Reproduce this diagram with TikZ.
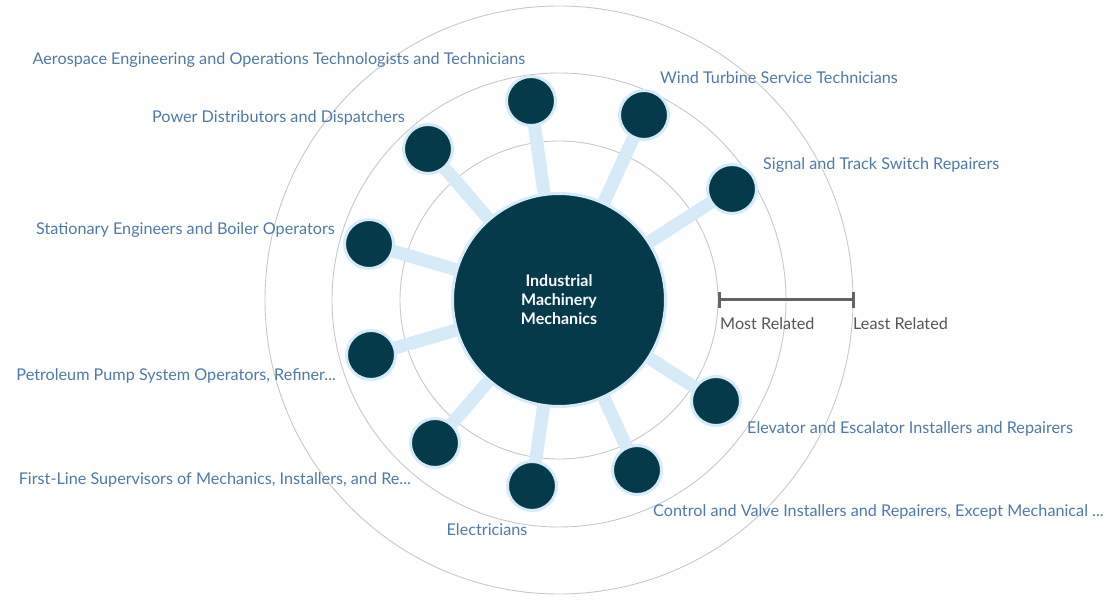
\documentclass[tikz,border=0pt]{standalone}
\usepackage{fontspec}
\setmainfont{Lato}
\usetikzlibrary{backgrounds}
\definecolor{hubdark}{RGB}{5,58,74}
\definecolor{halo}{RGB}{214,234,248}
\definecolor{ringgray}{RGB}{200,200,200}
\definecolor{labelblue}{RGB}{79,120,170}
\definecolor{scalegray}{RGB}{100,100,100}
\definecolor{scaletext}{RGB}{85,85,85}
\tikzset{
  occ/.style={circle,fill=hubdark,draw=halo,line width=3pt,minimum size=49pt,inner sep=0pt},
  hub/.style={occ,minimum size=213pt,text=white,align=center,
    font=\fontsize{16}{19}\selectfont\bfseries},
  occlabel/.style={text=labelblue,inner sep=0pt,font=\fontsize{16.2}{19}\selectfont},
  scalelabel/.style={text=scaletext,inner sep=0pt,font=\fontsize{16.2}{19}\selectfont},
  link/.style={draw=halo,line width=13pt},
  ring/.style={draw=ringgray,line width=0.9pt},
  scalebar/.style={draw=scalegray,line width=3pt}
}
\begin{document}
\begin{tikzpicture}[x=1pt,y=-1pt]
\useasboundingbox (0,0) rectangle (1110,601);
\coordinate (c) at (559,300);
\node[hub] (hub) at (c) {Industrial\\Machinery\\Mechanics};
\foreach \n/\x/\y in {aero/531/101,wind/644/115,signal/732/189,power/428/149,
    station/369/244,petro/371/355,firstline/435/443,elec/532/486,
    control/637/470,elevator/716/401} {
  \node[occ] (\n) at (\x,\y) {};
}
\begin{scope}[on background layer]
\foreach \r in {159,227,294} {
  \draw[ring] (c) circle (\r pt);
}
\foreach \n in {aero,wind,signal,power,station,petro,firstline,elec,control,elevator} {
  \draw[link] (hub.center) -- (\n.center);
}
\end{scope}
\node[occlabel] (aerotext) at (279,60.5) {Aerospace Engineering and Operations Technologists and Technicians};
\node[occlabel,anchor=west] (windtext) at (660,77.5) {Wind Turbine Service Technicians};
\node[occlabel,anchor=west] (signaltext) at (763,165.5) {Signal and Track Switch Repairers};
\node[occlabel,anchor=east] (powertext) at (405,117.5) {Power Distributors and Dispatchers};
\node[occlabel,anchor=east] (stationtext) at (335,230.5) {Stationary Engineers and Boiler Operators};
\node[occlabel,anchor=east] (petrotext) at (336,375.5) {Petroleum Pump System Operators, Refiner...};
\node[occlabel,anchor=east] (firstlinetext) at (411,479.5) {First-Line Supervisors of Mechanics, Installers, and Re...};
\node[occlabel] (electext) at (487,529.5) {Electricians};
\node[occlabel,anchor=west] (controltext) at (653,511.5) {Control and Valve Installers and Repairers, Except Mechanical ...};
\node[occlabel,anchor=west] (elevatortext) at (747,428.5) {Elevator and Escalator Installers and Repairers};
\coordinate (most) at (719,300);
\coordinate (least) at (853,300);
\draw[scalebar] (most) -- (least);
\draw[scalebar] ([yshift=8pt]most) -- ([yshift=-8pt]most);
\draw[scalebar] ([yshift=8pt]least) -- ([yshift=-8pt]least);
\node[scalelabel,anchor=west] (mosttext) at (720,323.5) {Most Related};
\node[scalelabel,anchor=west] (leasttext) at (853,323.5) {Least Related};
\end{tikzpicture}
\end{document}
